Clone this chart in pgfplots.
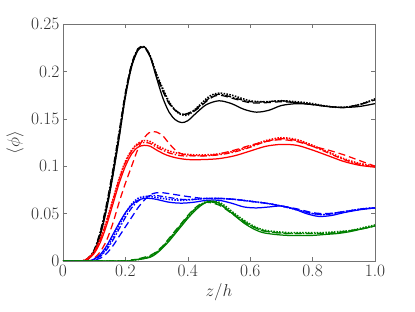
\documentclass[border=0pt]{standalone}
\usepackage{pgfplots}
\pgfplotsset{compat=1.18}
\definecolor{mgreen}{rgb}{0,0.5,0}
\definecolor{axgray}{gray}{0.45}
\begin{document}
\begin{tikzpicture}
\useasboundingbox (-63bp,-51bp) rectangle (352bp,261bp);
\begin{axis}[
  scale only axis, width=312bp, height=237bp,
  xmin=0, xmax=1, ymin=0, ymax=0.25,
  axis line style={axgray, line width=0.6pt},
  tick style={axgray, line width=0.5pt},
  tick align=inside, major tick length=4bp,
  xtick={0,0.2,0.4,0.6,0.8,1.0},
  xticklabels={0,0.2,0.4,0.6,0.8,1.0},
  ytick={0,0.05,0.1,0.15,0.2,0.25},
  yticklabels={0,0.05,0.1,0.15,0.2,0.25},
  ticklabel style={font=\fontsize{17.5}{20}\selectfont, text=black!80},
  label style={font=\fontsize{18}{21}\selectfont, text=black!80},
  xlabel={$z/h$}, ylabel={$\langle\phi\rangle$},
  ylabel style={at={(axis description cs:-0.115,0.5)}, anchor=south},
  every axis plot/.append style={line width=1.25pt, smooth, tension=0.5},
  clip=true,
]
% ---------- black ----------
\addplot[black] coordinates {(0,0)(0.06,0)(0.08,0.002)(0.10,0.01)(0.12,0.028)(0.14,0.055)(0.16,0.09)(0.18,0.13)(0.20,0.173)(0.22,0.205)(0.24,0.222)(0.26,0.226)(0.28,0.215)(0.30,0.193)(0.32,0.172)(0.34,0.157)(0.36,0.149)(0.38,0.146)(0.40,0.148)(0.43,0.157)(0.46,0.165)(0.50,0.169)(0.54,0.166)(0.58,0.16)(0.62,0.157)(0.66,0.159)(0.70,0.164)(0.75,0.166)(0.80,0.165)(0.85,0.163)(0.90,0.162)(0.95,0.163)(1.0,0.166)};
\addplot[black, dash pattern=on 1.5pt off 1.4pt, line width=1.6pt] coordinates {(0,0)(0.06,0)(0.08,0.002)(0.10,0.01)(0.12,0.029)(0.14,0.057)(0.16,0.092)(0.18,0.132)(0.20,0.175)(0.22,0.206)(0.24,0.223)(0.26,0.226)(0.28,0.216)(0.30,0.197)(0.34,0.168)(0.37,0.156)(0.40,0.154)(0.43,0.162)(0.47,0.174)(0.50,0.177)(0.54,0.175)(0.60,0.169)(0.65,0.168)(0.70,0.169)(0.75,0.168)(0.80,0.166)(0.85,0.163)(0.90,0.162)(0.95,0.165)(1.0,0.171)};
\addplot[black, dash pattern=on 7pt off 4pt] coordinates {(0,0)(0.06,0)(0.08,0.002)(0.10,0.011)(0.12,0.03)(0.14,0.058)(0.16,0.093)(0.18,0.133)(0.20,0.176)(0.22,0.207)(0.24,0.223)(0.26,0.225)(0.28,0.215)(0.30,0.195)(0.34,0.166)(0.38,0.155)(0.42,0.158)(0.47,0.171)(0.50,0.175)(0.55,0.171)(0.60,0.167)(0.65,0.167)(0.70,0.168)(0.75,0.167)(0.80,0.165)(0.85,0.163)(0.90,0.162)(0.95,0.165)(1.0,0.17)};
\addplot[black, dash pattern=on 6pt off 2pt on 1.5pt off 2pt] coordinates {(0,0)(0.06,0)(0.08,0.003)(0.10,0.012)(0.12,0.032)(0.14,0.061)(0.16,0.097)(0.18,0.137)(0.20,0.178)(0.22,0.208)(0.24,0.224)(0.26,0.226)(0.28,0.216)(0.30,0.196)(0.34,0.167)(0.38,0.155)(0.42,0.159)(0.47,0.172)(0.50,0.176)(0.55,0.172)(0.60,0.168)(0.65,0.168)(0.70,0.169)(0.75,0.167)(0.80,0.165)(0.85,0.163)(0.90,0.162)(0.95,0.165)(1.0,0.17)};
% ---------- red ----------
\addplot[red] coordinates {(0,0)(0.06,0)(0.08,0.002)(0.10,0.008)(0.12,0.02)(0.14,0.038)(0.16,0.06)(0.18,0.082)(0.20,0.1)(0.22,0.113)(0.24,0.12)(0.26,0.122)(0.28,0.121)(0.30,0.117)(0.33,0.112)(0.36,0.109)(0.40,0.107)(0.45,0.107)(0.50,0.108)(0.55,0.111)(0.60,0.116)(0.65,0.121)(0.70,0.123)(0.75,0.122)(0.80,0.117)(0.85,0.111)(0.90,0.105)(0.95,0.101)(1.0,0.099)};
\addplot[red, dash pattern=on 1.5pt off 1.4pt, line width=1.6pt] coordinates {(0,0)(0.06,0)(0.08,0.003)(0.10,0.01)(0.12,0.024)(0.14,0.043)(0.16,0.065)(0.18,0.087)(0.20,0.105)(0.22,0.117)(0.24,0.124)(0.26,0.127)(0.28,0.126)(0.30,0.122)(0.34,0.116)(0.38,0.113)(0.42,0.112)(0.46,0.112)(0.50,0.113)(0.55,0.116)(0.60,0.121)(0.65,0.127)(0.70,0.13)(0.75,0.128)(0.80,0.122)(0.85,0.115)(0.90,0.108)(0.95,0.103)(1.0,0.1)};
\addplot[red, dash pattern=on 7pt off 4pt] coordinates {(0,0)(0.08,0)(0.10,0.003)(0.12,0.01)(0.14,0.022)(0.16,0.04)(0.18,0.062)(0.20,0.082)(0.22,0.1)(0.24,0.118)(0.26,0.13)(0.28,0.136)(0.30,0.136)(0.32,0.132)(0.34,0.124)(0.36,0.117)(0.38,0.113)(0.42,0.111)(0.46,0.111)(0.50,0.113)(0.55,0.117)(0.60,0.122)(0.65,0.126)(0.70,0.128)(0.75,0.126)(0.80,0.121)(0.85,0.117)(0.90,0.112)(0.95,0.106)(1.0,0.1)};
\addplot[red, dash pattern=on 6pt off 2pt on 1.5pt off 2pt] coordinates {(0,0)(0.06,0)(0.08,0.003)(0.10,0.01)(0.12,0.023)(0.14,0.042)(0.16,0.064)(0.18,0.086)(0.20,0.104)(0.22,0.116)(0.24,0.123)(0.26,0.125)(0.28,0.124)(0.30,0.12)(0.34,0.114)(0.38,0.111)(0.42,0.111)(0.46,0.111)(0.50,0.112)(0.55,0.115)(0.60,0.12)(0.65,0.126)(0.70,0.129)(0.75,0.127)(0.80,0.121)(0.85,0.114)(0.90,0.107)(0.95,0.102)(1.0,0.099)};
% ---------- blue ----------
\addplot[blue] coordinates {(0,0)(0.08,0)(0.10,0.002)(0.12,0.007)(0.14,0.016)(0.16,0.028)(0.18,0.04)(0.20,0.051)(0.22,0.059)(0.24,0.064)(0.26,0.066)(0.28,0.066)(0.30,0.065)(0.34,0.062)(0.38,0.061)(0.42,0.062)(0.46,0.064)(0.50,0.064)(0.54,0.061)(0.58,0.057)(0.62,0.056)(0.66,0.057)(0.70,0.058)(0.74,0.055)(0.78,0.05)(0.82,0.047)(0.86,0.048)(0.90,0.051)(0.95,0.054)(1.0,0.056)};
\addplot[blue, dash pattern=on 1.5pt off 1.4pt, line width=1.6pt] coordinates {(0,0)(0.08,0)(0.10,0.002)(0.12,0.006)(0.14,0.014)(0.16,0.025)(0.18,0.038)(0.20,0.05)(0.22,0.06)(0.24,0.066)(0.26,0.068)(0.28,0.068)(0.30,0.067)(0.34,0.065)(0.38,0.064)(0.42,0.065)(0.46,0.066)(0.50,0.066)(0.55,0.065)(0.60,0.063)(0.65,0.061)(0.70,0.058)(0.75,0.054)(0.80,0.05)(0.84,0.049)(0.88,0.051)(0.92,0.053)(0.96,0.055)(1.0,0.056)};
\addplot[blue, dash pattern=on 7pt off 4pt] coordinates {(0,0)(0.08,0)(0.10,0.001)(0.12,0.003)(0.14,0.008)(0.16,0.016)(0.18,0.026)(0.20,0.036)(0.22,0.046)(0.24,0.056)(0.26,0.064)(0.28,0.07)(0.30,0.072)(0.32,0.072)(0.36,0.07)(0.40,0.068)(0.45,0.066)(0.50,0.066)(0.55,0.065)(0.60,0.063)(0.65,0.061)(0.70,0.058)(0.75,0.055)(0.80,0.051)(0.84,0.05)(0.88,0.051)(0.92,0.053)(0.96,0.055)(1.0,0.056)};
\addplot[blue, dash pattern=on 6pt off 2pt on 1.5pt off 2pt] coordinates {(0,0)(0.08,0)(0.10,0.002)(0.12,0.005)(0.14,0.012)(0.16,0.022)(0.18,0.034)(0.20,0.046)(0.22,0.056)(0.24,0.063)(0.26,0.067)(0.28,0.069)(0.30,0.069)(0.34,0.067)(0.38,0.065)(0.42,0.065)(0.46,0.066)(0.50,0.066)(0.55,0.065)(0.60,0.063)(0.65,0.061)(0.70,0.058)(0.75,0.054)(0.80,0.05)(0.84,0.049)(0.88,0.051)(0.92,0.053)(0.96,0.055)(1.0,0.056)};
% ---------- green ----------
\addplot[mgreen] coordinates {(0,0)(0.20,0)(0.22,0.001)(0.25,0.002)(0.28,0.004)(0.30,0.008)(0.32,0.014)(0.34,0.021)(0.36,0.029)(0.38,0.037)(0.40,0.045)(0.42,0.052)(0.44,0.058)(0.46,0.062)(0.48,0.063)(0.50,0.061)(0.52,0.056)(0.55,0.048)(0.58,0.04)(0.61,0.034)(0.64,0.03)(0.68,0.028)(0.72,0.027)(0.76,0.027)(0.80,0.027)(0.84,0.028)(0.88,0.029)(0.92,0.031)(0.96,0.034)(1.0,0.037)};
\addplot[mgreen, dash pattern=on 1.5pt off 1.4pt, line width=1.6pt] coordinates {(0,0)(0.20,0)(0.22,0.001)(0.25,0.002)(0.28,0.005)(0.30,0.009)(0.32,0.015)(0.34,0.022)(0.36,0.03)(0.38,0.038)(0.40,0.046)(0.42,0.053)(0.44,0.059)(0.46,0.063)(0.48,0.063)(0.50,0.062)(0.52,0.058)(0.55,0.05)(0.58,0.043)(0.61,0.037)(0.64,0.033)(0.68,0.031)(0.72,0.03)(0.76,0.03)(0.80,0.03)(0.84,0.03)(0.88,0.031)(0.92,0.032)(0.96,0.035)(1.0,0.038)};
\addplot[mgreen, dash pattern=on 7pt off 4pt] coordinates {(0,0)(0.20,0)(0.22,0.001)(0.25,0.003)(0.28,0.006)(0.30,0.01)(0.32,0.016)(0.34,0.024)(0.36,0.032)(0.38,0.04)(0.40,0.048)(0.42,0.055)(0.44,0.06)(0.46,0.062)(0.48,0.061)(0.50,0.059)(0.52,0.055)(0.55,0.048)(0.58,0.041)(0.61,0.036)(0.64,0.032)(0.68,0.03)(0.72,0.029)(0.76,0.029)(0.80,0.029)(0.84,0.029)(0.88,0.03)(0.92,0.032)(0.96,0.034)(1.0,0.037)};
\addplot[mgreen, dash pattern=on 6pt off 2pt on 1.5pt off 2pt] coordinates {(0,0)(0.20,0)(0.22,0.001)(0.25,0.002)(0.28,0.005)(0.30,0.009)(0.32,0.015)(0.34,0.023)(0.36,0.031)(0.38,0.039)(0.40,0.047)(0.42,0.054)(0.44,0.059)(0.46,0.062)(0.48,0.062)(0.50,0.06)(0.52,0.056)(0.55,0.049)(0.58,0.042)(0.61,0.036)(0.64,0.032)(0.68,0.03)(0.72,0.029)(0.76,0.029)(0.80,0.029)(0.84,0.029)(0.88,0.03)(0.92,0.032)(0.96,0.034)(1.0,0.037)};
\end{axis}
\end{tikzpicture}
\end{document}
